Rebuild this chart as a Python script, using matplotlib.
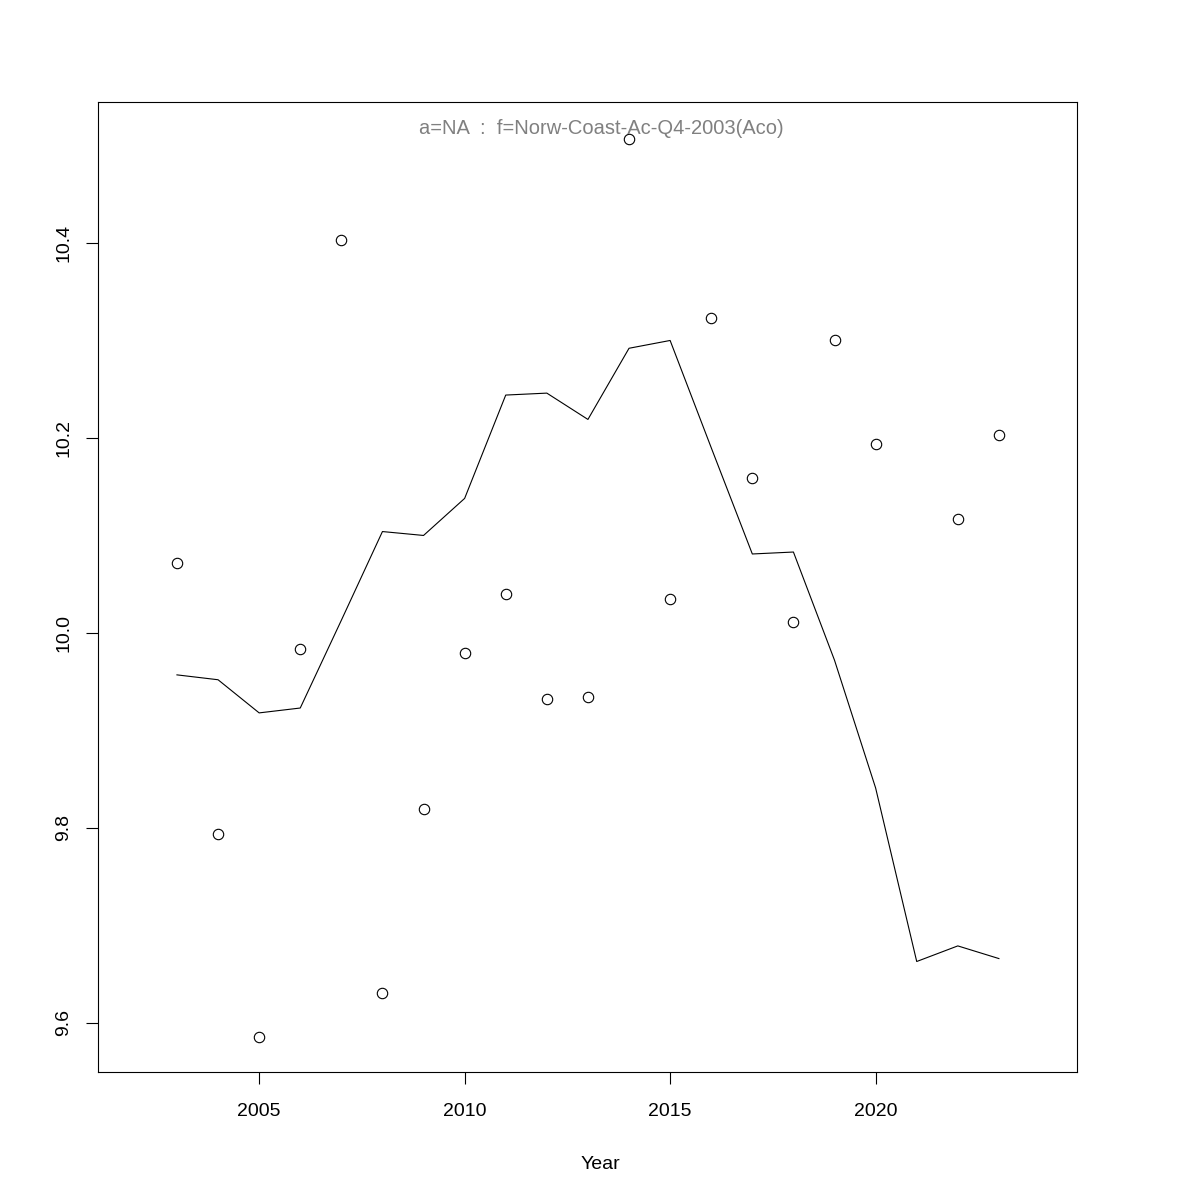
import numpy as np
import matplotlib
matplotlib.use("Agg")
import matplotlib.pyplot as plt

plt.rcParams['font.family'] = ['Liberation Sans', 'DejaVu Sans']

# observed index values (2021 missing)
obs_years = [2003, 2004, 2005, 2006, 2007, 2008, 2009, 2010, 2011, 2012,
             2013, 2014, 2015, 2016, 2017, 2018, 2019, 2020, 2022, 2023]
obs_vals = [10.072, 9.794, 9.586, 9.984, 10.403, 9.631, 9.819, 9.979, 10.040, 9.932,
            9.934, 10.507, 10.035, 10.323, 10.159, 10.011, 10.300, 10.194, 10.117, 10.203]

# fitted line
fit_years = list(range(2003, 2024))
fit_vals = [9.957, 9.952, 9.918, 9.923, 10.013, 10.104, 10.100, 10.138, 10.244, 10.246,
            10.219, 10.292, 10.300, 10.190, 10.081, 10.083, 9.972, 9.841, 9.663, 9.679, 9.666]

title_txt = "a=NA  :  f=Norw-Coast-Ac-Q4-2003(Aco)"

fig = plt.figure(figsize=(12, 12), dpi=100)
ax = fig.add_axes([0.0817, 0.1067, 0.8158, 0.8083])

ax.plot(obs_years, obs_vals, 'o', mfc='none', mec='black', ms=7.5, mew=0.8)
ax.plot(fit_years, fit_vals, '-', color='black', lw=0.8)

ax.set_xlim(2001.08, 2024.9)
ax.set_ylim(9.5497, 10.5446)

ax.set_xticks([2005, 2010, 2015, 2020])
ax.set_yticks([9.6, 9.8, 10.0, 10.2, 10.4])
ax.set_yticklabels(['9.6', '9.8', '10.0', '10.2', '10.4'], rotation=90, va='center')
ax.tick_params(direction='out', length=8.6, width=0.8, labelsize=14, pad=10)
ax.tick_params(axis='x', pad=14)
for s in ax.spines.values():
    s.set_linewidth(0.8)

ax.set_xlabel('Year', fontsize=14, labelpad=26)
ax.xaxis.label.set_x(0.513)
ax.text(0.514, 0.973, title_txt, transform=ax.transAxes, ha='center', va='center',
        fontsize=14.5, color='grey')

fig.savefig('out.png', dpi=100)
